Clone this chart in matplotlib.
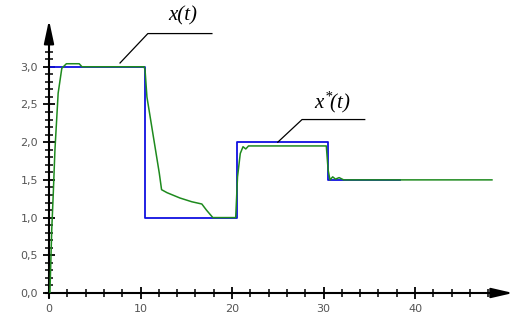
#plot reference x(t) and response x*(t), step changes of set point
import numpy as np
import matplotlib.pyplot as plt
from matplotlib.ticker import FixedLocator, FuncFormatter

#=====================Data===============
# set point x(t), piecewise constant
t_ref = [0, 10.5, 10.5, 20.5, 20.5, 30.5, 30.5, 38.4]
x_ref = [3.0, 3.0, 1.0, 1.0, 2.0, 2.0, 1.5, 1.5]

# system response x*(t)
t_out = [0.1, 0.3, 0.47, 0.65, 1.0, 1.4, 1.9, 3.3, 3.6, 10.4, 10.5, 10.7, 12.05, 12.3, 12.9,
         14.3, 15.6, 16.7, 17.2, 17.9, 20.4, 20.6, 20.9, 21.2, 21.5, 21.8, 22.3, 30.3, 30.5,
         30.7, 31.0, 31.3, 31.7, 32.2, 48.4]
x_out = [0.0, 0.84, 1.33, 1.9, 2.65, 2.98, 3.04, 3.04, 3.0, 3.0, 2.95, 2.6, 1.59, 1.37, 1.33,
         1.26, 1.21, 1.18, 1.1, 1.0, 1.0, 1.54, 1.85, 1.94, 1.91, 1.95, 1.95, 1.95, 1.63,
         1.5, 1.54, 1.51, 1.53, 1.5, 1.5]

x_major = [0, 10, 20, 30, 40]
y_major = [0.0, 0.5, 1.0, 1.5, 2.0, 2.5, 3.0]

#====================Plot=======================
fig = plt.figure(figsize=(5.27, 3.23), dpi=100)
ax = fig.add_axes([49/527, 30/323, (513-49)/527, (293-20)/323])

ax.plot(t_out, x_out, color='#1e8a1e', linewidth=1.1, zorder=3)
ax.plot(t_ref, x_ref, color='#1010e0', linewidth=1.3, zorder=2)

ax.set_xlim(0, 50.7)
ax.set_ylim(0, 3.62)

for s in ['top', 'right']:
    ax.spines[s].set_visible(False)
for s in ['left', 'bottom']:
    ax.spines[s].set_linewidth(1.5)
ax.spines['left'].set_bounds(-0.05, 3.3)
ax.spines['bottom'].set_bounds(-0.3, 48.5)

ax.xaxis.set_major_locator(FixedLocator(x_major))
ax.xaxis.set_minor_locator(FixedLocator(np.arange(0, 48.1, 2)))
ax.yaxis.set_major_locator(FixedLocator(y_major))
ax.yaxis.set_minor_locator(FixedLocator(np.arange(0, 3.31, 0.1)))
ax.yaxis.set_major_formatter(FuncFormatter(lambda v, p: ('%.1f' % v).replace('.', ',')))
ax.tick_params(which='major', direction='inout', length=8, width=1.3, labelsize=8,
               labelcolor='#555555', pad=4)
ax.tick_params(which='minor', direction='inout', length=6, width=1.1)

# arrow heads on the axes
ax.annotate('', xy=(1, 0), xytext=(48.3/50.7, 0), xycoords='axes fraction',
            arrowprops=dict(arrowstyle='-|>,head_length=1.3,head_width=0.3', color='k',
                            lw=1.5, shrinkA=0, shrinkB=0), annotation_clip=False)
ax.annotate('', xy=(0, 1), xytext=(0, 3.28/3.62), xycoords='axes fraction',
            arrowprops=dict(arrowstyle='-|>,head_length=1.4,head_width=0.3', color='k',
                            lw=1.5, shrinkA=0, shrinkB=0), annotation_clip=False)

# leader lines and labels
ax.plot([7.76, 10.8, 17.8], [3.05, 3.44, 3.44], color='k', linewidth=0.9, clip_on=False)
ax.text(14.6, 3.68, 'x(t)', family='Liberation Serif', style='italic', fontsize=15,
        ha='center', va='center', clip_on=False)
ax.plot([25.0, 27.65, 34.5], [2.0, 2.30, 2.30], color='k', linewidth=0.9, clip_on=False)
plt.rcParams['mathtext.fontset'] = 'custom'
plt.rcParams['mathtext.it'] = 'Liberation Serif:italic'
plt.rcParams['mathtext.rm'] = 'Liberation Serif:italic'
ax.text(31.0, 2.53, r'$x^{*}\!(t)$', fontsize=15, ha='center', va='center', clip_on=False)

plt.savefig('out.png', dpi=100)
